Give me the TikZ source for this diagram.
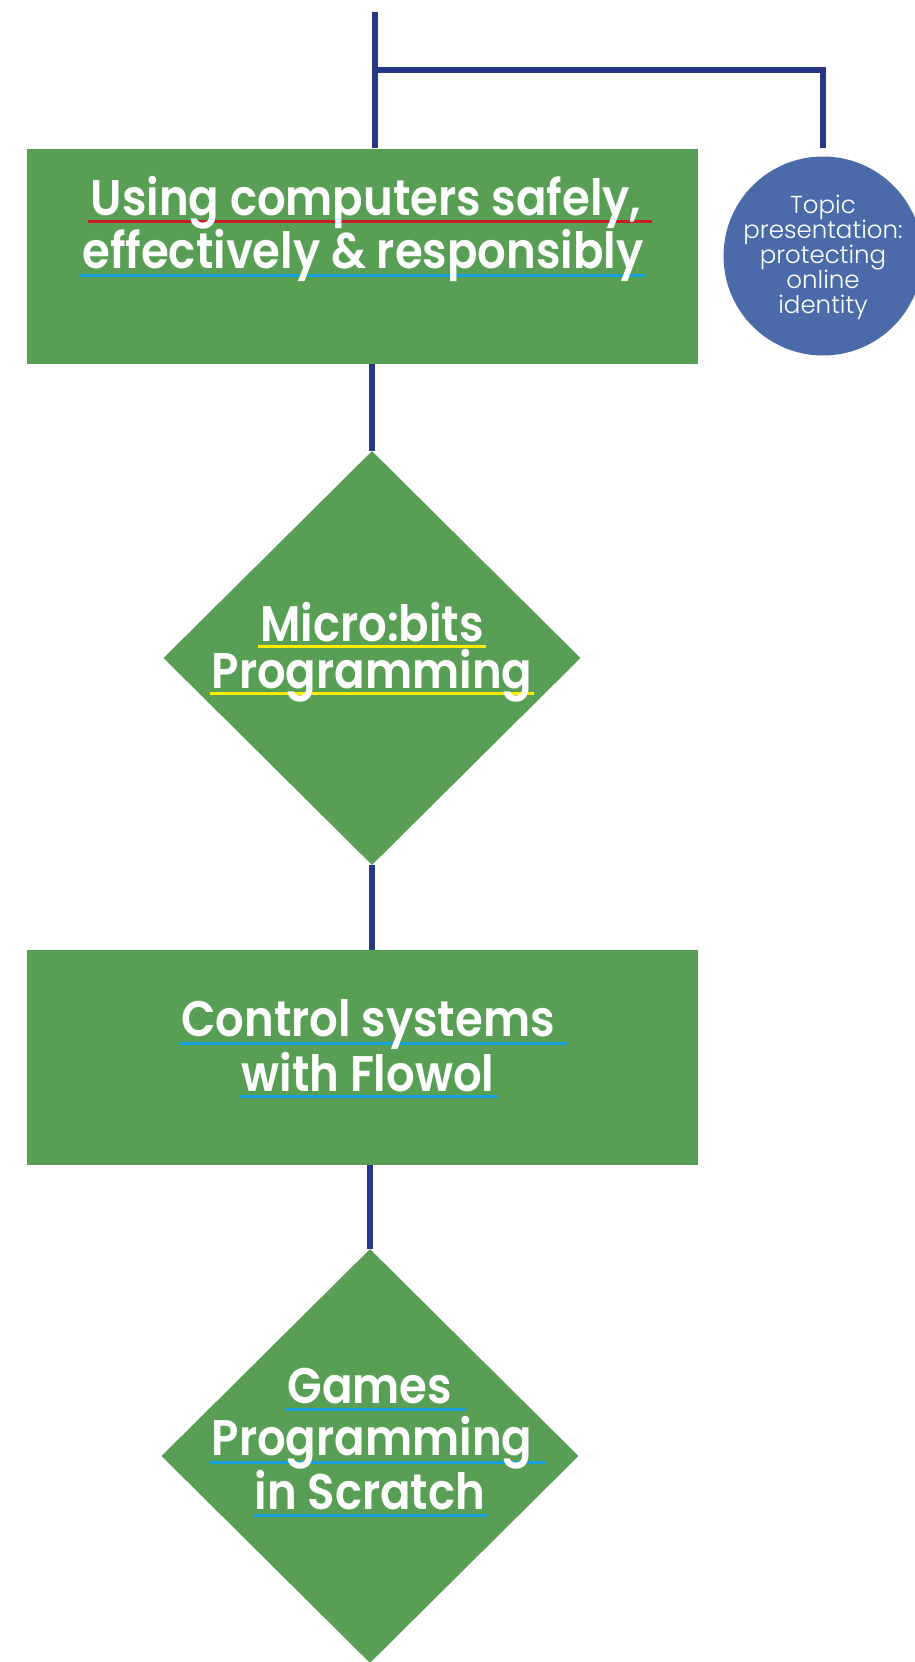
\documentclass[tikz,border=0pt]{standalone}
\usepackage{fontspec}
\usetikzlibrary{shapes.geometric}
\newfontfamily\titlefont[FakeStretch=0.9,BoldFont={Poppins SemiBold}]{Poppins}
\newfontfamily\circfont{Poppins Light}
\definecolor{navy}{RGB}{40,56,136}
\definecolor{boxgreen}{RGB}{88,159,85}
\definecolor{circblue}{RGB}{74,106,170}
\definecolor{ulred}{RGB}{200,30,38}
\definecolor{ulcyan}{RGB}{22,160,220}
\definecolor{ulyellow}{RGB}{255,236,0}
\pgfdeclarelayer{bg}
\pgfdeclarelayer{mid}
\pgfsetlayers{bg,mid,main}
\begin{document}
\begin{tikzpicture}[x=1pt,y=-1pt,
  conn/.style={draw=navy,line width=5.5pt},
  greenbox/.style={rectangle,fill=boxgreen,minimum width=671pt,minimum height=215pt,inner sep=0pt},
  greendiamond/.style={diamond,fill=boxgreen,minimum width=417pt,minimum height=414pt,inner sep=0pt},
  topiccircle/.style={circle,fill=circblue,minimum size=199pt,inner sep=0pt},
  title/.style={text=white,inner sep=0pt,anchor=base,font=\titlefont\bfseries\fontsize{50}{53}\selectfont},
  circtext/.style={text=white,inner sep=0pt,align=center,font=\circfont\fontsize{24.5}{25}\selectfont},
  ul/.style={line width=3pt}]
\useasboundingbox (0,0) rectangle (914,1662);
\clip (0,0) rectangle (914,1662);
\begin{pgfonlayer}{bg}
\node[greenbox] (b1) at (362.5,256) {};
\node[greendiamond] (d1) at (372,658) {};
\node[greenbox] (b2) at (362.5,1057.5) {};
\node[greendiamond] (d2) at (370,1456) {};
\node[topiccircle] (c) at (823,256) {};
\end{pgfonlayer}
\coordinate (top) at (375,12);
\coordinate (br) at (375,70);
\draw[conn] (top) -- (top |- b1.north);
\draw[conn] (br) -| ([yshift=8pt]c.north);
\draw[conn] (d1.north |- b1.south) -- (d1.north);
\draw[conn] (d1.south) -- (d1.south |- b2.north);
\draw[conn] (d2.north |- b2.south) -- (d2.north);
% texts
\node[title] (b1l1) at (366,215) {Using computers safely,};
\node[title] (b1l2) at (363,268) {effectively \& responsibly};
\node[title] (d1l1) at (372,641) {Micro:bits};
\node[title] (d1l2) at (372,688) {Programming};
\node[title] (b2l1) at (368,1036) {Control systems};
\node[title] (b2l2) at (368,1091) {with Flowol};
\node[title] (d2l1) at (370,1403) {Games};
\node[title] (d2l2) at (372,1455) {Programming};
\node[title] (d2l3) at (370,1509) {in Scratch};
\node[circtext] (ct) at (823,257) {Topic\\presentation:\\protecting\\online\\identity};
\begin{pgfonlayer}{mid}
\draw[ul,ulred] ([xshift=-2pt,yshift=-6pt]b1l1.base west) -- ([xshift=10pt,yshift=-6pt]b1l1.base east);
\draw[ul,ulcyan] ([xshift=-2pt,yshift=-7pt]b1l2.base west) -- ([xshift=2pt,yshift=-7pt]b1l2.base east);
\draw[ul,ulyellow] ([xshift=-2pt,yshift=-5pt]d1l1.base west) -- ([xshift=2pt,yshift=-5pt]d1l1.base east);
\draw[ul,ulyellow] ([xshift=-2pt,yshift=-5pt]d1l2.base west) -- ([xshift=2pt,yshift=-5pt]d1l2.base east);
\draw[ul,ulcyan] ([xshift=-2pt,yshift=-7pt]b2l1.base west) -- ([xshift=13pt,yshift=-7pt]b2l1.base east);
\draw[ul,ulcyan] ([xshift=-2pt,yshift=-5pt]b2l2.base west) -- ([xshift=2pt,yshift=-5pt]b2l2.base east);
\draw[ul,ulcyan] ([xshift=-2pt,yshift=-6pt]d2l1.base west) -- ([xshift=13pt,yshift=-6pt]d2l1.base east);
\draw[ul,ulcyan] ([xshift=-2pt,yshift=-7pt]d2l2.base west) -- ([xshift=13pt,yshift=-7pt]d2l2.base east);
\draw[ul,ulcyan] ([xshift=-2pt,yshift=-6pt]d2l3.base west) -- ([xshift=2pt,yshift=-6pt]d2l3.base east);
\end{pgfonlayer}
\end{tikzpicture}
\end{document}
